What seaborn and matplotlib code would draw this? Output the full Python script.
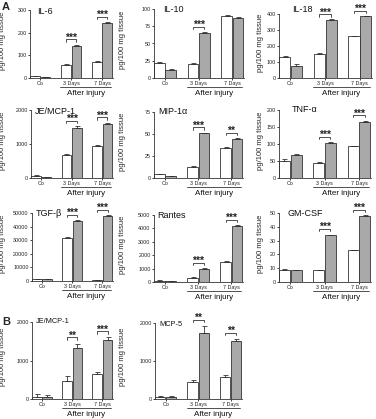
import numpy as np
import pandas as pd
import matplotlib
matplotlib.use("Agg")
import matplotlib.pyplot as plt
import matplotlib.transforms as mtransforms
import seaborn as sns

# categories shared by every panel
groups = ["Co", "3 Days", "7 Days"]
conditions = ["ctrl", "treat"]

# ---- panel A ----
il6_ctrl = [8, 57, 70]
il6_ctrl_err = [2, 3, 3]
il6_treat = [5, 140, 243]
il6_treat_err = [1, 6, 4]
il6_sig = ["", "***", "***"]
il6_ticks = [0, 100, 200, 300]

il10_ctrl = [22, 21, 90]
il10_ctrl_err = [1.5, 1, 2]
il10_treat = [12, 65, 87]
il10_treat_err = [1, 1.5, 1.5]
il10_sig = ["", "***", ""]
il10_ticks = [0, 25, 50, 75, 100]

il18_ctrl = [130, 150, 260]
il18_ctrl_err = [6, 5, 5]
il18_treat = [78, 360, 385]
il18_treat_err = [8, 6, 4]
il18_sig = ["", "***", "***"]
il18_ticks = [0, 100, 200, 300, 400]

je_ctrl = [60, 680, 940]
je_ctrl_err = [15, 25, 20]
je_treat = [30, 1480, 1580]
je_treat_err = [10, 40, 40]
je_sig = ["", "***", "***"]
je_ticks = [0, 1000, 2000]

mip_ctrl = [4, 12, 34]
mip_ctrl_err = [0.5, 1.2, 1.2]
mip_treat = [2, 51, 44]
mip_treat_err = [0.5, 0.6, 1.2]
mip_sig = ["", "***", "**"]
mip_ticks = [0, 25, 50, 75]

tnf_ctrl = [50, 45, 93]
tnf_ctrl_err = [6, 1, 1]
tnf_treat = [68, 104, 166]
tnf_treat_err = [2, 1.5, 3]
tnf_sig = ["", "***", "***"]
tnf_ticks = [0, 50, 100, 150, 200]

tgf_ctrl = [1500, 31500, 500]
tgf_ctrl_err = [300, 500, 200]
tgf_treat = [1400, 44000, 48000]
tgf_treat_err = [300, 800, 400]
tgf_sig = ["", "***", "***"]
tgf_ticks = [0, 10000, 20000, 30000, 40000, 50000]

rantes_ctrl = [100, 300, 1500]
rantes_ctrl_err = [20, 40, 40]
rantes_treat = [60, 1000, 4200]
rantes_treat_err = [10, 30, 60]
rantes_sig = ["", "***", "***"]
rantes_ticks = [0, 1000, 2000, 3000, 4000, 5000]

gmcsf_ctrl = [9, 8.5, 23]
gmcsf_ctrl_err = [0.3, 0.4, 0.5]
gmcsf_treat = [8.5, 34, 48]
gmcsf_treat_err = [0.2, 0.4, 0.5]
gmcsf_sig = ["", "***", "***"]
gmcsf_ticks = [0, 10, 20, 30, 40, 50]

# ---- panel B ----
bje_ctrl = [60, 480, 640]
bje_ctrl_err = [60, 120, 60]
bje_treat = [50, 1320, 1520]
bje_treat_err = [60, 120, 80]
bje_sig = ["", "**", "***"]
bje_ticks = [0, 1000, 2000]

mcp5_ctrl = [40, 450, 570]
mcp5_ctrl_err = [40, 60, 70]
mcp5_treat = [40, 1750, 1520]
mcp5_treat_err = [40, 180, 70]
mcp5_sig = ["", "**", "**"]
mcp5_ticks = [0, 1000, 2000]

W, H = 376, 419
EDGE = "#333333"
GREY = "#a9a9a9"

# name, values, layout in pixels (left, top, right, bottom), title pos (x, y), title size
panels = [
    ("IL-6", il6_ctrl, il6_ctrl_err, il6_treat, il6_treat_err, il6_sig, il6_ticks, (30, 10, 113, 78), (37, 12), 6.5),
    ("IL-10", il10_ctrl, il10_ctrl_err, il10_treat, il10_treat_err, il10_sig, il10_ticks, (154, 9, 244, 78), (163, 10), 6.5),
    ("IL-18", il18_ctrl, il18_ctrl_err, il18_treat, il18_treat_err, il18_sig, il18_ticks, (279, 14, 372, 78), (292, 10), 6.5),
    ("JE/MCP-1", je_ctrl, je_ctrl_err, je_treat, je_treat_err, je_sig, je_ticks, (31, 110, 113, 178), (35, 111), 6.5),
    ("MIP-1\u03b1", mip_ctrl, mip_ctrl_err, mip_treat, mip_treat_err, mip_sig, mip_ticks, (154, 112, 243, 178), (158, 112), 6.5),
    ("TNF-\u03b1", tnf_ctrl, tnf_ctrl_err, tnf_treat, tnf_treat_err, tnf_sig, tnf_ticks, (279, 110, 371, 178), (292, 110), 6.5),
    ("TGF-\u03b2", tgf_ctrl, tgf_ctrl_err, tgf_treat, tgf_treat_err, tgf_sig, tgf_ticks, (32, 213, 113, 281), (36, 214), 6.5),
    ("Rantes", rantes_ctrl, rantes_ctrl_err, rantes_treat, rantes_treat_err, rantes_sig, rantes_ticks, (154, 215, 243, 282), (157, 215), 6.5),
    ("GM-CSF", gmcsf_ctrl, gmcsf_ctrl_err, gmcsf_treat, gmcsf_treat_err, gmcsf_sig, gmcsf_ticks, (279, 213, 371, 282), (288, 214), 6.5),
    ("JE/MCP-1", bje_ctrl, bje_ctrl_err, bje_treat, bje_treat_err, bje_sig, bje_ticks, (32, 322, 113, 399), (36, 321), 5.3),
    ("MCP-5", mcp5_ctrl, mcp5_ctrl_err, mcp5_treat, mcp5_treat_err, mcp5_sig, mcp5_ticks, (155, 323, 242, 399), (159, 324), 5.3),
]
ylabel_x = {30: 6, 31: 6, 32: 6, 154: 126, 155: 126, 279: 264}

sns.set_style("ticks")
plt.rcParams["font.family"] = ["Liberation Sans", "DejaVu Sans"]

fig = plt.figure(figsize=(W / 100, H / 100), dpi=100)


def px_rect(l, t, r, b):
    return [l / W, 1 - b / H, (r - l) / W, (b - t) / H]


for name, c, ce, t, te, sig, ticks, rect, tpos, tsize in panels:
    ax = fig.add_axes(px_rect(*rect))
    df = pd.DataFrame({"group": groups * 2,
                       "cond": ["ctrl"] * 3 + ["treat"] * 3,
                       "value": c + t})
    sns.barplot(data=df, x="group", y="value", hue="cond", order=groups,
                hue_order=conditions, palette=["white", GREY], edgecolor=EDGE,
                linewidth=0.6, errorbar=None, legend=False, width=0.68,
                gap=0.06, ax=ax)
    ymax = ticks[-1]
    centers = []
    tops = []
    for cont, errs in zip(ax.containers, [ce, te]):
        xs = [b.get_x() + b.get_width() / 2 for b in cont]
        hs = [b.get_height() for b in cont]
        ax.errorbar(xs, hs, yerr=[np.zeros(3), errs], fmt="none", ecolor=EDGE,
                    elinewidth=0.6, capsize=1.8, capthick=0.6, clip_on=False)
        centers.append(xs)
        tops.append([h + e for h, e in zip(hs, errs)])

    # significance brackets
    for i, s in enumerate(sig):
        if not s:
            continue
        x1, x2 = centers[0][i], centers[1][i]
        y = max(tops[0][i], tops[1][i]) + 0.08 * ymax
        leg = 0.035 * ymax
        ax.plot([x1, x1, x2, x2], [y - leg, y, y, y - leg], color=EDGE,
                lw=0.6, clip_on=False)
        ax.annotate(s, ((x1 + x2) / 2, y), xytext=(0, 1.2),
                    textcoords="offset points", ha="center", va="center",
                    fontsize=7.5, fontweight="bold", color="#222222",
                    annotation_clip=False)

    ax.set_xlim(-0.33, 2.35)
    ax.set_ylim(0, ymax)
    ax.set_yticks(ticks)
    ax.set_yticklabels([str(v) for v in ticks])
    sns.despine(ax=ax)
    for sp in ["left", "bottom"]:
        ax.spines[sp].set_linewidth(0.6)
        ax.spines[sp].set_color(EDGE)
    ax.tick_params(length=1.6, width=0.6, pad=0.8, labelsize=3.9, colors="#222222")
    ax.set_xlabel("")
    ax.set_ylabel("pg/100 mg tissue", fontsize=5.5)
    ax.yaxis.set_label_coords(ylabel_x[rect[0]] / W, 0.55,
                              transform=mtransforms.blended_transform_factory(fig.transFigure, ax.transAxes))

    # "After injury" bracket beneath the axis
    tl = ax.get_xaxis_transform() + mtransforms.ScaledTranslation(0, -0.09, fig.dpi_scale_trans)
    ax.plot([0.65, 2.28], [0, 0], transform=tl, color=EDGE, lw=0.6, clip_on=False)
    tt = ax.get_xaxis_transform() + mtransforms.ScaledTranslation(0, -0.155, fig.dpi_scale_trans)
    ax.text(1.47, 0, "After injury", transform=tt, ha="center", va="center",
            fontsize=5.8, color="#111111")

    fig.text(tpos[0] / W, 1 - tpos[1] / H, name, ha="left", va="center",
             fontsize=tsize, color="#111111")

fig.text(2 / W, 1 - 7 / H, "A", fontsize=8, fontweight="bold", va="center", ha="left")
fig.text(2 / W, 1 - 322 / H, "B", fontsize=8, fontweight="bold", va="center", ha="left")

fig.savefig("out.png", dpi=100)
